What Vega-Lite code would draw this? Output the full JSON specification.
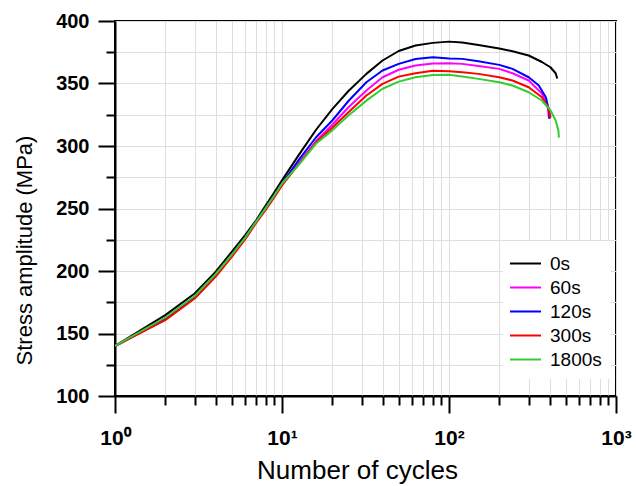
{
  "$schema": "https://vega.github.io/schema/vega-lite/v6.json",
  "autosize": {"type": "none"},
  "padding": {"left": 115, "top": 21, "right": 20, "bottom": 90},
  "width": 501,
  "height": 375,
  "background": "white",
  "config": {
    "view": {"stroke": "black", "strokeWidth": 2},
    "font": "Liberation Sans"
  },
  "data": {"values": [
    {"t":"0s","N":1,"S":140},{"t":"0s","N":2,"S":164.7},{"t":"0s","N":3,"S":182},{"t":"0s","N":4,"S":199.3},{"t":"0s","N":5,"S":215.3},{"t":"0s","N":6,"S":228.6},{"t":"0s","N":7,"S":240.6},{"t":"0s","N":8,"S":252.6},{"t":"0s","N":9,"S":263},{"t":"0s","N":10,"S":272.5},{"t":"0s","N":12.7,"S":293.5},{"t":"0s","N":16,"S":313},{"t":"0s","N":20,"S":329.5},{"t":"0s","N":25,"S":344},{"t":"0s","N":32,"S":357.7},{"t":"0s","N":40,"S":368.4},{"t":"0s","N":50,"S":376},{"t":"0s","N":63,"S":380.4},{"t":"0s","N":80,"S":382.5},{"t":"0s","N":100,"S":383.5},{"t":"0s","N":120,"S":382.8},{"t":"0s","N":150,"S":380.8},{"t":"0s","N":200,"S":378},{"t":"0s","N":240,"S":375.8},{"t":"0s","N":300,"S":372.4},{"t":"0s","N":360,"S":367.2},{"t":"0s","N":405,"S":363},{"t":"0s","N":435,"S":358.2},{"t":"0s","N":445,"S":354},
    {"t":"60s","N":1,"S":140},{"t":"60s","N":2,"S":161.5},{"t":"60s","N":3,"S":179},{"t":"60s","N":4,"S":196},{"t":"60s","N":5,"S":212},{"t":"60s","N":6,"S":226},{"t":"60s","N":7,"S":239},{"t":"60s","N":8,"S":250},{"t":"60s","N":9,"S":260},{"t":"60s","N":10,"S":269.5},{"t":"60s","N":12.7,"S":287},{"t":"60s","N":16,"S":304},{"t":"60s","N":20,"S":317},{"t":"60s","N":25,"S":331},{"t":"60s","N":32,"S":344.4},{"t":"60s","N":40,"S":355},{"t":"60s","N":50,"S":361},{"t":"60s","N":63,"S":364.4},{"t":"60s","N":80,"S":366},{"t":"60s","N":100,"S":366.2},{"t":"60s","N":120,"S":365.7},{"t":"60s","N":150,"S":364},{"t":"60s","N":200,"S":361.7},{"t":"60s","N":240,"S":358.2},{"t":"60s","N":300,"S":352.4},{"t":"60s","N":360,"S":342},{"t":"60s","N":390,"S":331},{"t":"60s","N":397,"S":322},
    {"t":"120s","N":1,"S":140},{"t":"120s","N":2,"S":161.5},{"t":"120s","N":3,"S":179},{"t":"120s","N":4,"S":196.5},{"t":"120s","N":5,"S":212.5},{"t":"120s","N":6,"S":226.5},{"t":"120s","N":7,"S":239.5},{"t":"120s","N":8,"S":250.5},{"t":"120s","N":9,"S":260.5},{"t":"120s","N":10,"S":270},{"t":"120s","N":12.7,"S":289.5},{"t":"120s","N":16,"S":307},{"t":"120s","N":20,"S":320.4},{"t":"120s","N":25,"S":336},{"t":"120s","N":32,"S":351},{"t":"120s","N":40,"S":360.4},{"t":"120s","N":50,"S":365.7},{"t":"120s","N":63,"S":369.6},{"t":"120s","N":80,"S":371},{"t":"120s","N":100,"S":370},{"t":"120s","N":120,"S":369.7},{"t":"120s","N":150,"S":367.8},{"t":"120s","N":200,"S":364.9},{"t":"120s","N":240,"S":361.7},{"t":"120s","N":300,"S":355},{"t":"120s","N":345,"S":348.4},{"t":"120s","N":380,"S":339},{"t":"120s","N":397,"S":328.4},{"t":"120s","N":400,"S":321.8},
    {"t":"300s","N":1,"S":140},{"t":"300s","N":2,"S":160.7},{"t":"300s","N":3,"S":178},{"t":"300s","N":4,"S":195.3},{"t":"300s","N":5,"S":211.3},{"t":"300s","N":6,"S":225},{"t":"300s","N":7,"S":238.4},{"t":"300s","N":8,"S":249},{"t":"300s","N":9,"S":259},{"t":"300s","N":10,"S":268.5},{"t":"300s","N":12.7,"S":286},{"t":"300s","N":16,"S":303},{"t":"300s","N":20,"S":314.6},{"t":"300s","N":25,"S":327},{"t":"300s","N":32,"S":340.4},{"t":"300s","N":40,"S":349.7},{"t":"300s","N":50,"S":355.5},{"t":"300s","N":63,"S":358.2},{"t":"300s","N":80,"S":360.2},{"t":"300s","N":100,"S":359.8},{"t":"300s","N":120,"S":359},{"t":"300s","N":150,"S":357.7},{"t":"300s","N":200,"S":355},{"t":"300s","N":240,"S":352.4},{"t":"300s","N":300,"S":347},{"t":"300s","N":360,"S":339},{"t":"300s","N":393,"S":331},{"t":"300s","N":406,"S":322.6},
    {"t":"1800s","N":1,"S":140},{"t":"1800s","N":2,"S":162.8},{"t":"1800s","N":3,"S":180},{"t":"1800s","N":4,"S":197.4},{"t":"1800s","N":5,"S":213},{"t":"1800s","N":6,"S":226.5},{"t":"1800s","N":7,"S":239.5},{"t":"1800s","N":8,"S":250.5},{"t":"1800s","N":9,"S":260.5},{"t":"1800s","N":10,"S":270},{"t":"1800s","N":12.7,"S":285.5},{"t":"1800s","N":16,"S":302},{"t":"1800s","N":20,"S":312.5},{"t":"1800s","N":25,"S":324.4},{"t":"1800s","N":32,"S":336.3},{"t":"1800s","N":40,"S":345.8},{"t":"1800s","N":50,"S":351.5},{"t":"1800s","N":63,"S":355},{"t":"1800s","N":80,"S":356.8},{"t":"1800s","N":100,"S":357},{"t":"1800s","N":120,"S":355.6},{"t":"1800s","N":150,"S":353.7},{"t":"1800s","N":200,"S":351},{"t":"1800s","N":240,"S":348.4},{"t":"1800s","N":300,"S":343},{"t":"1800s","N":360,"S":336.4},{"t":"1800s","N":406,"S":328.4},{"t":"1800s","N":435,"S":320.4},{"t":"1800s","N":452,"S":312.5},{"t":"1800s","N":455,"S":306.7}
  ]},
  "mark": {"type": "line", "strokeWidth": 2, "strokeJoin": "round", "clip": true},
  "encoding": {
    "x": {
      "field": "N", "type": "quantitative",
      "scale": {"type": "log", "domain": [1, 1000]},
      "axis": {
        "title": "Number of cycles",
        "values": [1,2,3,4,5,6,7,8,9,10,20,30,40,50,60,70,80,90,100,200,300,400,500,600,700,800,900,1000],
        "labelExpr": "datum.value == 1 ? '10⁰' : datum.value == 10 ? '10¹' : datum.value == 100 ? '10²' : datum.value == 1000 ? '10³' : ''",
        "tickSize": {"condition": {"test": "datum.value == 1 || datum.value == 10 || datum.value == 100 || datum.value == 1000", "value": 17}, "value": 9},
        "tickWidth": 2, "tickColor": "black",
        "domainColor": "black", "domainWidth": 2,
        "grid": true, "gridColor": "#dedede", "gridWidth": 1,
        "labelFont": "Liberation Sans", "labelFontSize": 21, "labelFontWeight": "bold", "labelColor": "black",
        "labelPadding": 14, "labelOverlap": false, "labelFlush": false, "labelBound": false,
        "titleFont": "Liberation Sans", "titleFontSize": 26, "titleFontWeight": "normal", "titleColor": "black",
        "titleX": 242, "titleY": 82, "titleBaseline": "alphabetic", "titleAnchor": "middle", "titleAlign": "center"
      }
    },
    "y": {
      "field": "S", "type": "quantitative",
      "scale": {"domain": [100, 400], "nice": false, "zero": false},
      "axis": {
        "title": "Stress amplitude (MPa)",
        "values": [100,125,150,175,200,225,250,275,300,325,350,375,400],
        "labelExpr": "datum.value % 50 == 0 ? datum.label : ''",
        "tickSize": {"condition": {"test": "datum.value % 50 == 0", "value": 17}, "value": 9},
        "tickWidth": 2, "tickColor": "black",
        "domainColor": "black", "domainWidth": 2,
        "grid": true, "gridColor": "#dedede", "gridWidth": 1,
        "labelFont": "Liberation Sans", "labelFontSize": 20, "labelFontWeight": "bold", "labelColor": "black",
        "labelPadding": 9, "labelOverlap": false, "labelFlush": false, "labelBound": false,
        "titleFont": "Liberation Sans", "titleFontSize": 22, "titleFontWeight": "normal", "titleColor": "black",
        "titleAngle": 270, "titleX": -84, "titleY": 229, "titleBaseline": "alphabetic", "titleAlign": "center", "titleAnchor": "middle"
      }
    },
    "color": {
      "field": "t", "type": "nominal",
      "scale": {"domain": ["0s","60s","120s","300s","1800s"], "range": ["#000000","#ff00ff","#0000ff","#ff0000","#33cc33"]},
      "legend": {
        "title": null, "orient": "none", "legendX": 388, "legendY": 220, "padding": 9,
        "fillColor": "white", "strokeColor": null,
        "symbolType": "M-1.24,0H1.24", "symbolSize": 625, "symbolStrokeWidth": 2,
        "labelFont": "Liberation Sans", "labelFontSize": 19, "labelColor": "black", "labelOffset": 11,
        "rowPadding": 0
      }
    },
    "order": {"field": "N", "type": "quantitative"}
  }
}
